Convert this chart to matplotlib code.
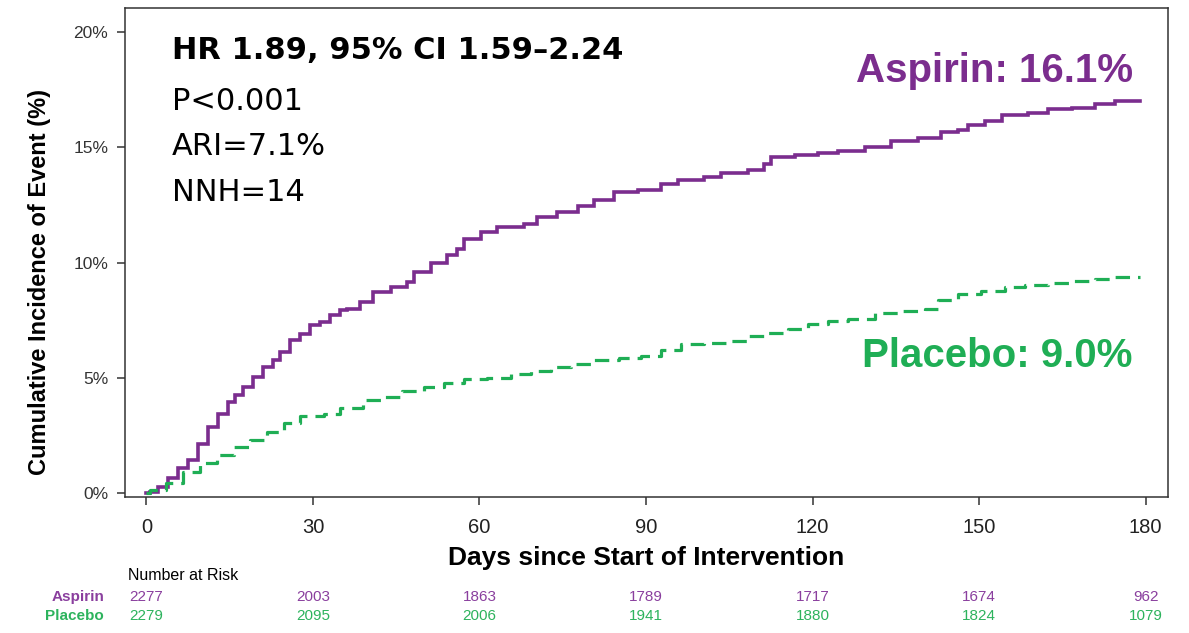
# Cumulative incidence (Kaplan-Meier style) chart, aspirin vs placebo
import numpy as np
import matplotlib
matplotlib.use("Agg")
import matplotlib.pyplot as plt
import matplotlib.transforms as mtransforms

# %% data (days, cumulative %)
days_asp = [0, 0.6, 2.1, 3.9, 5.7, 7.5, 9.3, 11.1, 12.9, 14.7, 16.0, 17.4, 19.2, 21.0, 22.8, 24.1,
            25.9, 27.7, 29.5, 31.2, 33.1, 34.9, 36.1, 38.5, 40.9, 44.0, 47.0, 48.2, 51.2, 54.2,
            56.0, 57.2, 60.2, 63.2, 68.0, 70.4, 74.0, 77.7, 80.6, 84.3, 88.5, 92.7, 95.7, 100.5,
            103.5, 108.3, 111.3, 112.5, 116.8, 121.0, 124.6, 129.4, 134.2, 139.0, 143.2, 146.2,
            148.0, 151.0, 154.1, 158.9, 162.5, 166.7, 170.9, 174.5, 179.0]
aspirin = [0, 0.05, 0.27, 0.64, 1.10, 1.45, 2.15, 2.87, 3.45, 3.95, 4.25, 4.60, 5.04, 5.47, 5.77,
           6.13, 6.63, 6.92, 7.29, 7.43, 7.72, 7.93, 8.00, 8.29, 8.73, 8.94, 9.16, 9.59, 9.96,
           10.32, 10.60, 11.04, 11.33, 11.54, 11.69, 11.98, 12.19, 12.44, 12.73, 13.06, 13.16,
           13.42, 13.60, 13.71, 13.88, 14.03, 14.29, 14.58, 14.65, 14.75, 14.84, 15.01, 15.27,
           15.42, 15.66, 15.73, 15.98, 16.14, 16.38, 16.50, 16.64, 16.72, 16.86, 16.99, 16.99]

days_pla = [0, 0.6, 3.6, 6.6, 9.7, 12.7, 15.7, 18.7, 21.7, 24.7, 27.7, 31.9, 34.9, 39.1, 42.7,
            46.1, 50.0, 53.6, 57.2, 61.4, 65.6, 69.2, 72.8, 76.4, 80.6, 85.2, 89.1, 92.7, 96.3,
            100.5, 104.7, 108.3, 112.0, 115.6, 119.2, 122.8, 126.4, 131.2, 135.4, 140.2, 142.6,
            146.2, 150.4, 154.7, 158.3, 162.5, 166.7, 170.9, 174.5, 179.0]
placebo = [0, 0.13, 0.45, 0.92, 1.29, 1.65, 2.00, 2.30, 2.66, 3.02, 3.34, 3.45, 3.71, 4.03, 4.17,
           4.42, 4.61, 4.78, 4.94, 4.97, 5.16, 5.29, 5.47, 5.62, 5.77, 5.84, 5.94, 6.20, 6.45,
           6.53, 6.60, 6.81, 6.95, 7.11, 7.33, 7.47, 7.57, 7.79, 7.90, 8.00, 8.37, 8.63, 8.77,
           8.92, 9.02, 9.12, 9.20, 9.29, 9.36, 9.38]

x_ticks = [0, 30, 60, 90, 120, 150, 180]
y_ticks = [0, 5, 10, 15, 20]
y_tick_labels = ["0%", "5%", "10%", "15%", "20%"]

risk_asp = [2277, 2003, 1863, 1789, 1717, 1674, 962]
risk_pla = [2279, 2095, 2006, 1941, 1880, 1824, 1079]

stats_lines = ["HR 1.89, 95% CI 1.59\u20132.24", "P<0.001", "ARI=7.1%", "NNH=14"]

PURPLE = "#7b2d8e"
GREEN = "#1fae55"

plt.rcParams["font.family"] = ["Liberation Sans", "DejaVu Sans"]

# %% figure and axes
W, H = 1189, 633
fig = plt.figure(figsize=(W / 100, H / 100), dpi=100)
ax = fig.add_axes([125 / W, 1 - 497 / H, 1043 / W, 489 / H])

ax.plot(days_asp, aspirin, drawstyle="steps-post", color=PURPLE, lw=2.6, solid_joinstyle="miter")
ax.plot(days_pla, placebo, drawstyle="steps-post", color=GREEN, lw=2.3,
        linestyle=(0, (4.5, 2.5)))

ax.set_xlim(-3.87, 184.05)
ax.set_ylim(-0.17, 21.04)
ax.set_xticks(x_ticks)
ax.set_xticklabels([str(t) for t in x_ticks], fontsize=14.5, color="#222222")
ax.set_yticks(y_ticks)
ax.set_yticklabels(y_tick_labels, fontsize=12.5, color="#333333")
ax.tick_params(axis="x", length=6, width=1.1, pad=9, color="#333333")
ax.tick_params(axis="y", length=6, width=1.1, pad=6, color="#333333")
for sp in ax.spines.values():
    sp.set_linewidth(1.1)
    sp.set_color("#333333")

# axis titles
fig.text(40 / W, 1 - 282 / H, "Cumulative Incidence of Event (%)", rotation=90,
         ha="center", va="center", fontsize=17, fontweight="bold")
fig.text(646 / W, 1 - 558 / H, "Days since Start of Intervention",
         ha="center", va="center", fontsize=19, fontweight="bold")

# stats block
baselines = [59, 110, 155, 201]
for i, (txt, b) in enumerate(zip(stats_lines, baselines)):
    fig.text(172 / W, 1 - b / H, txt, ha="left", va="baseline", fontsize=22,
             family="DejaVu Sans", fontweight="bold" if i == 0 else "normal")

# curve labels
fig.text(1133 / W, 1 - 82 / H, "Aspirin: 16.1%", ha="right", va="baseline",
         fontsize=29, fontweight="bold", color=PURPLE)
fig.text(1133 / W, 1 - 367 / H, "Placebo: 9.0%", ha="right", va="baseline",
         fontsize=29, fontweight="bold", color=GREEN)

# %% number at risk table
trans = mtransforms.blended_transform_factory(ax.transData, fig.transFigure)
fig.text(128 / W, 1 - 575 / H, "Number at Risk", ha="left", va="center", fontsize=11.5)
fig.text(104 / W, 1 - 597 / H, "Aspirin", ha="right", va="center", fontsize=11,
         fontweight="bold", color="#8a3f9e")
fig.text(104 / W, 1 - 616 / H, "Placebo", ha="right", va="center", fontsize=11,
         fontweight="bold", color="#2db35d")
for t, a, p in zip(x_ticks, risk_asp, risk_pla):
    ax.text(t, 1 - 597 / H, str(a), transform=trans, ha="center", va="center",
            fontsize=11, color="#8a3f9e")
    ax.text(t, 1 - 616 / H, str(p), transform=trans, ha="center", va="center",
            fontsize=11, color="#2db35d")

fig.savefig("out.png", dpi=100)
